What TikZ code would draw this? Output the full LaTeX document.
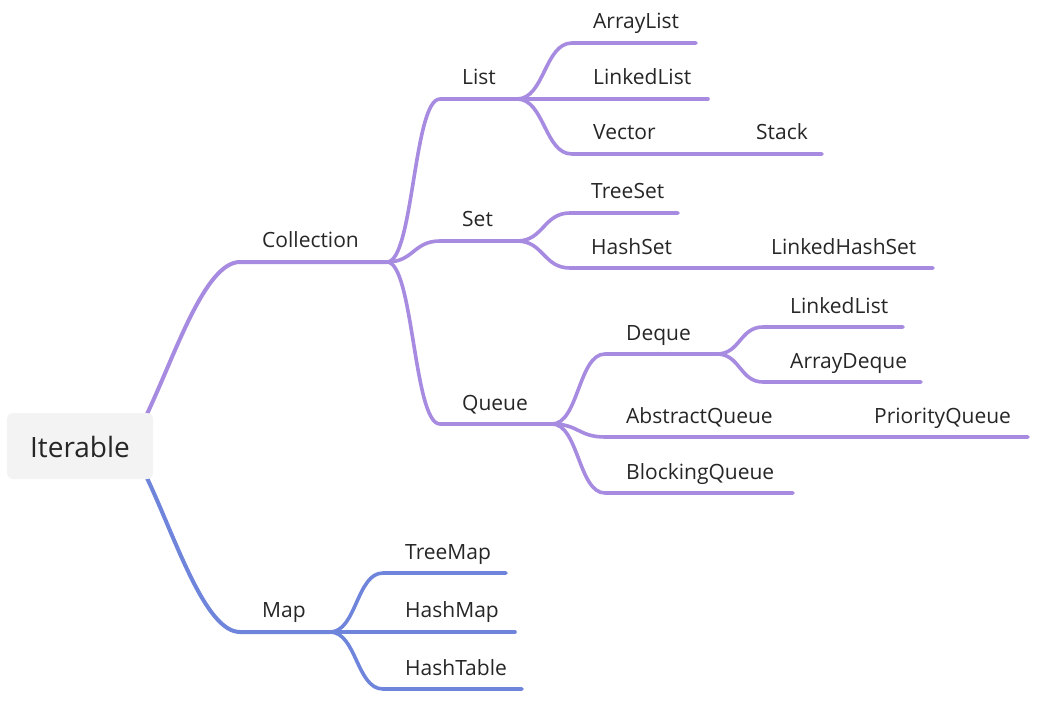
\documentclass[tikz,border=0pt]{standalone}
\usepackage{fontspec}
\setmainfont{Open Sans}
\usetikzlibrary{calc}
\definecolor{purp}{HTML}{A78BE0}
\definecolor{blu}{HTML}{6F85DB}
\definecolor{txt}{HTML}{262626}
\definecolor{boxfill}{HTML}{F3F3F3}
\begin{document}
\begin{tikzpicture}[x=1bp,y=-1bp,
  lbl/.style={anchor=base west, inner sep=0pt, font=\fontsize{21bp}{25bp}\selectfont, text=txt},
  sbr/.style={line cap=round, line width=3.6bp,
    to path={let \p1=(\tikztostart), \p2=(\tikztotarget) in
      .. controls ({(\x1+\x2)/2},\y1) and ({(\x1+\x2)/2},\y2) .. (\tikztotarget) \tikztonodes}},
  pl/.style={sbr, draw=purp},
  bl/.style={sbr, draw=blu},
  mainline/.style={line cap=round, line width=4bp},
  rootbox/.style={fill=boxfill, rounded corners=6bp, minimum width=146bp, minimum height=66bp, inner sep=0pt}
]
\useasboundingbox (0,0) rectangle (1052,704);

% coordinates
\coordinate (rC) at (147,414);
\coordinate (colS) at (240,262); \coordinate (colE) at (387,262);
\coordinate (listS) at (440,99); \coordinate (listE) at (517,99);
\coordinate (alS) at (572,43); \coordinate (alE) at (696,43);
\coordinate (llS) at (572,99); \coordinate (llE) at (708,99);
\coordinate (vecS) at (572,154); \coordinate (vecE) at (671,154); \coordinate (stkE) at (822,154);
\coordinate (setS) at (440,241); \coordinate (setE) at (517,241);
\coordinate (tsS) at (570,213); \coordinate (tsE) at (678,213);
\coordinate (hsS) at (570,268); \coordinate (hsE) at (685,268); \coordinate (lhsE) at (933,268);
\coordinate (quS) at (440,424); \coordinate (quE) at (552,424);
\coordinate (dqS) at (605,354); \coordinate (dqE) at (717,354);
\coordinate (dllS) at (763,327); \coordinate (dllE) at (903,327);
\coordinate (adS) at (763,382); \coordinate (adE) at (921,382);
\coordinate (aqS) at (605,437); \coordinate (aqE) at (787,437); \coordinate (pqE) at (1028,437);
\coordinate (bqS) at (605,493); \coordinate (bqE) at (793,493);
\coordinate (rM) at (147,478);
\coordinate (mapS) at (240,632); \coordinate (mapE) at (330,632);
\coordinate (tmS) at (383,573); \coordinate (tmE) at (506,573);
\coordinate (hmS) at (383,632); \coordinate (hmE) at (515,632);
\coordinate (htS) at (383,689); \coordinate (htE) at (522,689);

% main branches
\draw[mainline, draw=purp] (rC) .. controls (175,355) and (205,262) .. (colS) -- (colE);
\draw[mainline, draw=blu] (rM) .. controls (175,537) and (205,632) .. (mapS) -- (mapE);

% Collection subtree
\draw[pl] (colE) to (listS) -- (listE);
\draw[pl] (colE) to (setS) -- (setE);
\draw[pl] (colE) to (quS) -- (quE);
\draw[pl] (listE) to (alS) -- (alE);
\draw[pl] (listE) to (llS) -- (llE);
\draw[pl] (listE) to (vecS) -- (vecE) -- (stkE);
\draw[pl] (setE) to (tsS) -- (tsE);
\draw[pl] (setE) to (hsS) -- (hsE) -- (lhsE);
\draw[pl] (quE) to (dqS) -- (dqE);
\draw[pl] (dqE) to (dllS) -- (dllE);
\draw[pl] (dqE) to (adS) -- (adE);
\draw[pl] (quE) to (aqS) -- (aqE) -- (pqE);
\draw[pl] (quE) to (bqS) -- (bqE);

% Map subtree
\draw[bl] (mapE) to (tmS) -- (tmE);
\draw[bl] (mapE) to (hmS) -- (hmE);
\draw[bl] (mapE) to (htS) -- (htE);

% root
\node[rootbox] (root) at (80,446) {};
\node[anchor=base, inner sep=0pt, font=\fontsize{28bp}{32bp}\selectfont, text=txt] (rootT) at (80,457) {Iterable};

% labels
\node[lbl] (tCol) at (262,247) {Collection};
\node[lbl] (tList) at (462,85) {List};
\node[lbl] (tAL) at (593,29) {ArrayList};
\node[lbl] (tLL) at (593,85) {LinkedList};
\node[lbl] (tVec) at (593,140) {Vector};
\node[lbl] (tStk) at (756,140) {Stack};
\node[lbl] (tSet) at (462,226) {Set};
\node[lbl] (tTS) at (591,199) {TreeSet};
\node[lbl] (tHS) at (591,254) {HashSet};
\node[lbl] (tLHS) at (771,254) {LinkedHashSet};
\node[lbl] (tQu) at (462,410) {Queue};
\node[lbl] (tDq) at (626,340) {Deque};
\node[lbl] (tDLL) at (790,313) {LinkedList};
\node[lbl] (tAD) at (790,368) {ArrayDeque};
\node[lbl] (tAQ) at (626,423) {AbstractQueue};
\node[lbl] (tPQ) at (874,423) {PriorityQueue};
\node[lbl] (tBQ) at (626,479) {BlockingQueue};
\node[lbl] (tMap) at (262,617) {Map};
\node[lbl] (tTM) at (405,559) {TreeMap};
\node[lbl] (tHM) at (405,617) {HashMap};
\node[lbl] (tHT) at (405,675) {HashTable};
\end{tikzpicture}
\end{document}
